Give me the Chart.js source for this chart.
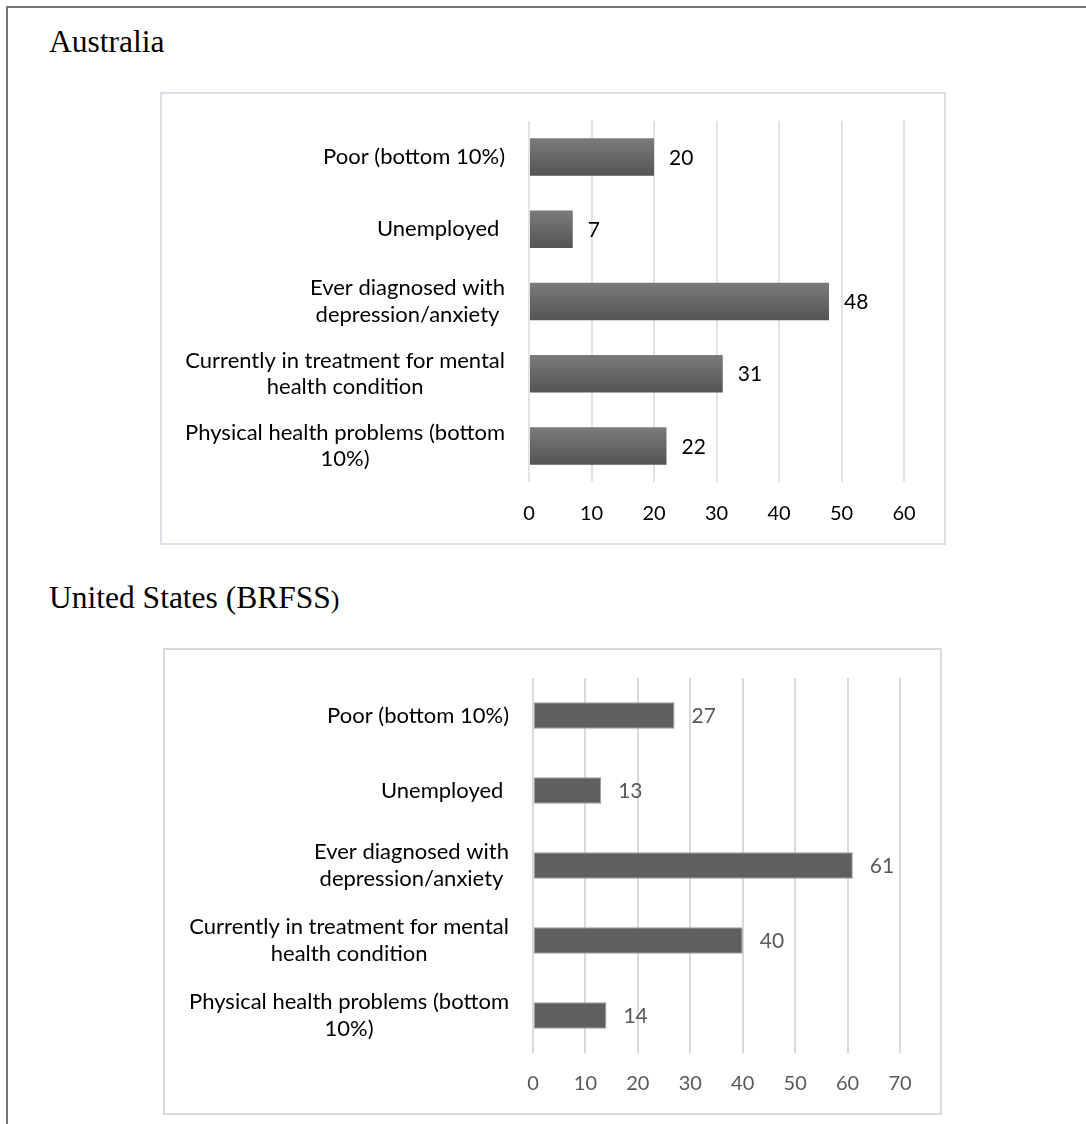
<!DOCTYPE html>
<html>
<head>
<meta charset="utf-8">
<script src="https://cdn.jsdelivr.net/npm/chart.js"></script>
<style>
  html, body { margin: 0; padding: 0; background: #fff; width: 1086px; height: 1124px; overflow: hidden; }
  #frame { position: absolute; left: 6px; top: 6px; width: 1200px; height: 1200px; border-top: 2px solid #767676; border-left: 2px solid #767676; }
  .title { position: absolute; left: 49px; font-family: 'Liberation Serif', 'Times New Roman', serif; font-size: 31.5px; line-height: 1; color: #000; white-space: nowrap; }
  .box { position: absolute; box-sizing: border-box; border: 2px solid #d9d9d9; background: #fff; }
  .box canvas { position: absolute; left: 0; top: 0; }
</style>
</head>
<body>
<div id="frame"></div>
<div class="title" style="top:26px">Australia</div>
<div class="box" style="left:160px;top:92px;width:786px;height:453px;border-color:#dcdfe6">
  <canvas id="auChart" width="782" height="449"></canvas>
</div>
<div class="title" style="top:582px">United States (BRFSS<span style="font-size:26px">)</span></div>
<div class="box" style="left:163px;top:648px;width:779px;height:467px;border-color:#d9d9d9">
  <canvas id="usChart" width="775" height="463"></canvas>
</div>
<script>
// data
var categories = [
  'Poor (bottom 10%)',
  'Unemployed ',
  ['Ever diagnosed with', 'depression/anxiety'],
  ['Currently in treatment for mental', 'health condition'],
  ['Physical health problems (bottom', '10%)']
];
var australiaValues = [20, 7, 48, 31, 22];
var usValues = [27, 13, 61, 40, 14];
var australiaTicks = [0, 10, 20, 30, 40, 50, 60];
var usTicks = [0, 10, 20, 30, 40, 50, 60, 70];

Chart.defaults.font.family = 'Lato';
Chart.defaults.animation = false;

// category labels: block right-aligned to the plot, lines centred in the block
var catLabels = {
  id: 'catLabels',
  afterDraw: function(chart, args, opts) {
    var ctx = chart.ctx, ys = chart.scales.y, area = chart.chartArea;
    ctx.save();
    ctx.font = opts.size + 'px Lato';
    ctx.fillStyle = opts.color;
    ctx.textAlign = 'center';
    ctx.textBaseline = 'middle';
    var right = area.left - opts.gap;
    var lh = opts.size * 1.2;
    chart.data.labels.forEach(function(lab, i) {
      var lines = Array.isArray(lab) ? lab : [lab];
      var w = Math.max.apply(null, lines.map(function(l) { return ctx.measureText(l).width; }));
      var cx = right - w / 2;
      var cy = ys.getPixelForValue(i);
      lines.forEach(function(l, j) {
        ctx.fillText(l, cx, cy + (j - (lines.length - 1) / 2) * lh);
      });
    });
    ctx.restore();
  }
};

// numbers at the end of the bars
var barValues = {
  id: 'barValues',
  afterDatasetsDraw: function(chart, args, opts) {
    var ctx = chart.ctx;
    var meta = chart.getDatasetMeta(0);
    var vals = chart.data.datasets[0].data;
    ctx.save();
    ctx.font = opts.size + 'px Lato';
    ctx.fillStyle = opts.color;
    ctx.textAlign = 'left';
    ctx.textBaseline = 'middle';
    meta.data.forEach(function(el, i) {
      ctx.fillText(String(vals[i]), el.x + opts.offset, el.y + 1);
    });
    ctx.restore();
  }
};

function makeChart(id, values, ticks, cfg) {
  return new Chart(document.getElementById(id), {
    type: 'bar',
    data: {
      labels: categories,
      datasets: [{
        data: values,
        backgroundColor: cfg.fill,
        borderColor: cfg.border,
        borderWidth: cfg.borderWidth,
        borderSkipped: false,
        categoryPercentage: 1,
        barPercentage: cfg.barPct
      }]
    },
    options: {
      indexAxis: 'y',
      responsive: false,
      layout: { padding: cfg.padding },
      plugins: {
        legend: { display: false },
        tooltip: { enabled: false },
        catLabels: { size: 22, color: '#000', gap: 24 },
        barValues: { size: 21, color: cfg.valueColor, offset: cfg.valueOffset }
      },
      scales: {
        x: {
          min: ticks[0],
          max: ticks[ticks.length - 1],
          ticks: { stepSize: ticks[1] - ticks[0], padding: cfg.tickPad, color: cfg.tickColor, font: { size: 20 } },
          grid: { color: cfg.grid, lineWidth: 2, drawTicks: false },
          border: { display: false },
          afterFit: function(scale) { scale.height = cfg.tickPad + 24; }
        },
        y: { display: false }
      }
    },
    plugins: [catLabels, barValues]
  });
}

// Australia: gradient bars
var auPct = 0.52;
makeChart('auChart', australiaValues, australiaTicks, {
  fill: function(c) {
    var chart = c.chart, ys = chart.scales.y;
    if (!chart.chartArea || !ys) return '#666';
    var cy = ys.getPixelForValue(c.dataIndex);
    var half = ys.height / categories.length * auPct / 2;
    var g = chart.ctx.createLinearGradient(0, cy - half, 0, cy + half);
    g.addColorStop(0, '#7b7b7b');
    g.addColorStop(1, '#545454');
    return g;
  },
  border: 'rgba(0,0,0,0)',
  borderWidth: 0,
  barPct: auPct,
  padding: { left: 367, right: 40, top: 27, bottom: 17 },
  tickPad: 20,
  tickColor: '#000',
  grid: '#e0e3e9',
  valueColor: '#000',
  valueOffset: 15
});

// United States: flat bars
makeChart('usChart', usValues, usTicks, {
  fill: '#5f5f5f',
  border: '#9c9c9c',
  borderWidth: 1,
  barPct: 0.356,
  padding: { left: 368, right: 40, top: 28, bottom: 17 },
  tickPad: 19,
  tickColor: '#595959',
  grid: '#d9d9d9',
  valueColor: '#595959',
  valueOffset: 17
});
</script>
</body>
</html>
